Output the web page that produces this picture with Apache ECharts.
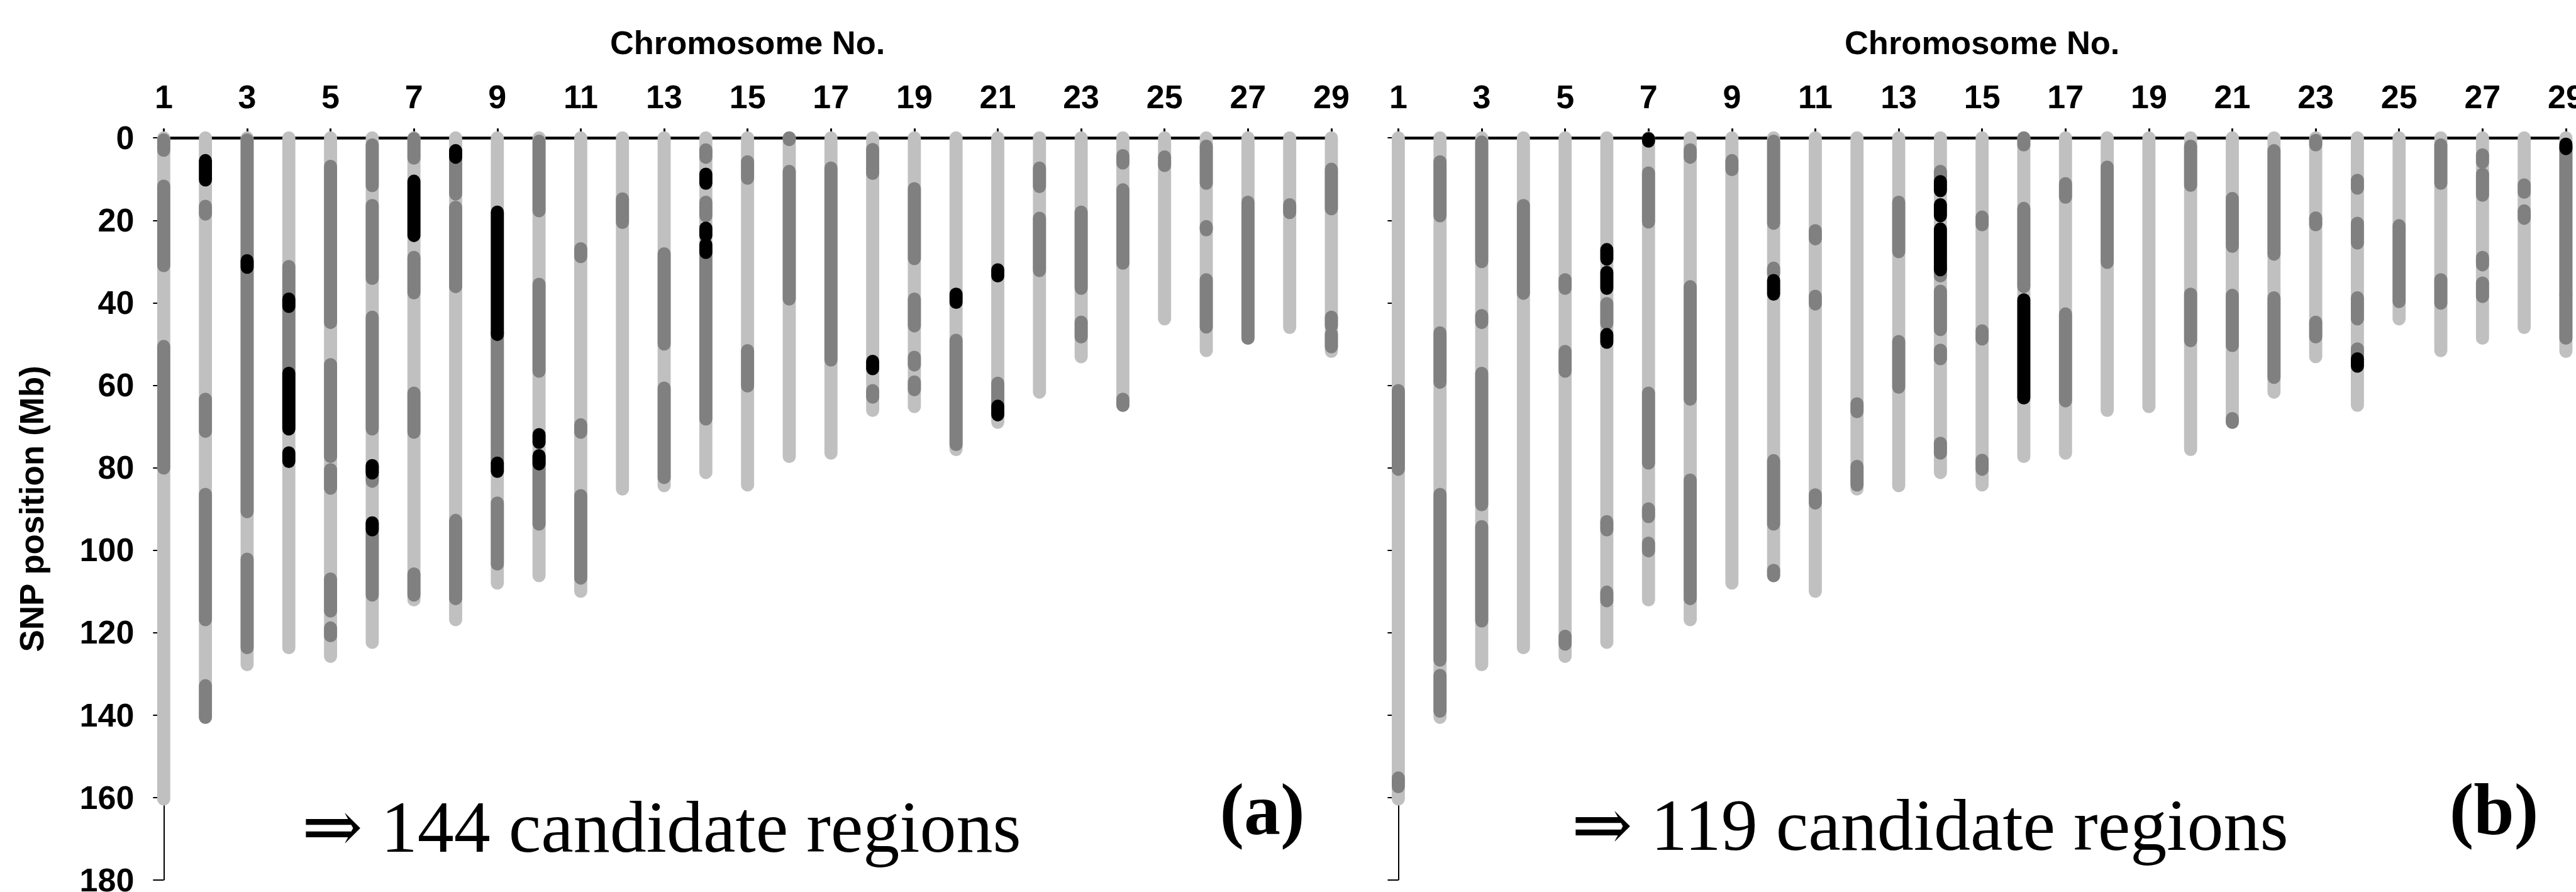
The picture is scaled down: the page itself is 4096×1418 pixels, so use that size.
<!DOCTYPE html>
<html>
<head>
<meta charset="utf-8">
<script src="https://cdn.jsdelivr.net/npm/echarts@6/dist/echarts.min.js"></script>
<style>
html,body{margin:0;padding:0;background:#fff;}
#chart{width:4096px;height:1418px;}
</style>
</head>
<body>
<div id="chart"></div>
<script>
// ---- data (Mb) ----
const chromosomes = [1,2,3,4,5,6,7,8,9,10,11,12,13,14,15,16,17,18,19,20,21,22,23,24,25,26,27,28,29];
const xTickLabels = ['1','3','5','7','9','11','13','15','17','19','21','23','25','27','29'];
const yTickLabels = [0,20,40,60,80,100,120,140,160,180];
const chromLength = [160.4,140.6,127.8,123.7,125.8,122.4,112.1,116.9,108.0,106.2,110.0,85.2,84.4,81.2,84.2,77.3,76.5,66.1,65.2,75.6,69.0,61.7,53.1,64.9,43.9,51.6,48.6,46.0,51.8];

// panel (a): [chromosome, start, end]
const darkA = [
 [1,0.5,3],[1,11.7,31.0],[1,50.6,80.1],
 [2,16.6,18.5],[2,63.4,71.2],[2,86.5,116.9],[2,132.9,140.6],
 [3,0.5,90.7],[3,102.2,123.7],
 [4,31.2,70.6],
 [5,6.9,44.8],[5,55,77.3],[5,80.5,85],[5,107,114.8],[5,118.9,120.8],
 [6,1.7,11.6],[6,16.4,34.1],[6,43.5,70.6],[6,79.5,83.3],[6,93.4,110.9],
 [7,0.2,4.9],[7,29,37.6],[7,61.9,71.4],[7,105.8,110.9],
 [8,3.1,13.6],[8,16.8,36.1],[8,92.8,111.8],
 [9,47,79],[9,88.6,103.4],
 [10,0.8,17.7],[10,35.5,56.6],[10,77.1,93.7],
 [11,26.9,28.8],[11,69.6,71.4],[11,86.8,106.8],
 [12,14.8,20.5],
 [13,28.1,50],[13,60.7,82.4],
 [14,2.9,4.7],[14,15.6,18.9],[14,26.9,68.2],
 [15,5.8,9.8],[15,51.6,60.2],
 [16,0,0.4],[16,8.1,39.1],
 [17,7.3,53.9],
 [18,2.8,8.6],[18,61.3,62.9],
 [19,12.3,29.3],[19,39.1,45.6],[19,53.2,55.1],[19,59.2,61.1],
 [20,49.1,74.4],
 [21,59.5,64.6],
 [22,7.3,11.8],[22,19.5,32.2],
 [23,18,36.5],[23,44.7,48.3],
 [24,4.3,6.1],[24,12.6,30.4],[24,63.4,64.9],
 [25,4.6,6.7],
 [26,2,11],[26,21.5,22.3],[26,34.4,45.9],
 [27,15.6,48.6],
 [28,16.2,18.1],
 [29,7.6,17.2],[29,43.5,45.6],[29,47.6,50.7]
];
const blackA = [
 [2,5.5,10.2],[3,29.8,31.4],
 [4,39.1,40.9],[4,57.1,70.6],[4,76.4,78.5],
 [6,79.5,81.3],[6,93.4,95.1],
 [7,10.5,23.7],[8,3.1,4.7],
 [9,18,47.7],[9,78.9,80.9],
 [10,72,73.9],[10,77.1,79.1],
 [14,8.8,11],[14,21.9,23.7],[14,25.9,27.8],
 [18,54.2,56],[20,37.9,39.9],
 [21,32,33.5],[21,65.1,67.2]
];
// panel (b)
const darkB = [
 [1,61.3,80.4],[1,155.3,157.4],
 [2,5.8,18.9],[2,47.3,59.3],[2,86.5,126.7],[2,130.4,139.1],
 [3,1,30],[3,43.1,44.8],[3,57.1,89],[3,94.3,117.2],
 [4,16.4,37.7],
 [5,34.4,36.5],[5,51.8,56.6],[5,120.9,122.8],
 [6,40.2,45],[6,93.1,95.1],[6,110.2,112.3],
 [7,8.5,20.4],[7,61.9,78.9],[7,90,91.9],[7,98.3,100.2],
 [8,2.9,4.7],[8,36.1,63.4],[8,83,111.8],
 [9,5.5,7.7],
 [10,0.8,20.7],[10,31.6,32.9],[10,78.3,93.7],[10,104.9,106.2],
 [11,22.5,24.5],[11,38.4,40.3],[11,86.6,88.6],
 [12,64.5,66.4],[12,79.7,84.2],
 [13,15.6,27.6],[13,49.4,60.5],
 [14,8.1,9.7],[14,31,33.5],[14,37.2,46.5],[14,51.5,53.6],[14,74.1,76.5],
 [15,19.2,21.1],[15,46.8,48.8],[15,78.2,80.4],
 [16,0,1.7],[16,17.1,36.1],
 [17,11.1,14.4],[17,42.7,63.8],
 [18,7.1,30.2],
 [20,2,11.5],[20,37.9,49.2],
 [21,14.7,26.3],[21,38.2,50.4],[21,68.1,69],
 [22,3.1,28.2],[22,38.8,58.1],
 [23,0.6,1.7],[23,19.4,21.1],[23,44.7,48.3],
 [24,10.3,12.2],[24,20.7,25.5],[24,38.8,43.9],[24,51.2,53.4],
 [25,21.3,39.7],
 [26,1.7,11],[26,34.4,40.1],
 [27,4.1,5.9],[27,8.8,13.9],[27,29,30.8],[27,35.2,38.5],
 [28,11.4,13.2],[28,17.7,19.5],
 [29,2,38],[29,38,48.6]
];
const blackB = [
 [6,27.1,29.4],[6,32.6,36.5],[6,47.7,49.6],
 [7,0.2,0.8],
 [10,34.6,37.9],
 [14,10.6,12.8],[14,16.2,18.9],[14,22.1,32],
 [16,39.3,63.1],
 [24,53.6,55.4],
 [29,1.5,2.6]
];
const panelLabels = ['(a)','(b)'];
const regionTexts = ['\u21D2 144 candidate regions','\u21D2 119 candidate regions'];

// ---- drawing ----
const S = 0.991;
const BAR_W = 21 * S;
const LIGHT = '#c0c0c0', DARK = '#808080', BLACK = '#000000';
const sansFont = "'Liberation Sans', Arial, sans-serif";
const serifFont = "'Liberation Serif', 'Times New Roman', 'DejaVu Serif', serif";

function makeRender(color){
  return function(params, api){
    const x = api.value(0), s = api.value(1), e = api.value(2);
    const p1 = api.coord([x, s]), p2 = api.coord([x, e]);
    let y2 = p2[1];
    if (Math.abs(y2 - p1[1]) < 0.5) y2 = p1[1] + 0.5;
    return {
      type: 'line',
      shape: {x1: p1[0], y1: p1[1], x2: p2[0], y2: y2},
      style: {stroke: color, lineWidth: BAR_W, lineCap: 'round', fill: null},
      silent: true
    };
  };
}

const chromData = chromosomes.map((c, i) => [c, 0, chromLength[i]]);

const gridTop = 221.2 * S, gridH = (1411.3 - 221.2) * S;
const grids = [
  {left: 262.7 * S, top: gridTop, width: (2136.2 - 262.7) * S, height: gridH, containLabel: false, outerBoundsMode: 'none'},
  {left: 2243.6 * S, top: gridTop, width: (4117.0 - 2243.6) * S, height: gridH, containLabel: false, outerBoundsMode: 'none'}
];

function xAxisFor(i){
  return {
    gridIndex: i, type: 'value', position: 'top', min: 1, max: 29, interval: 2,
    axisLine: {show: true, onZero: false, lineStyle: {color: '#000', width: 4.5}},
    axisTick: {show: true, inside: false, length: 15, lineStyle: {color: '#000', width: 3}},
    axisLabel: {show: true, margin: 39, fontSize: 52, fontWeight: 'bold', color: '#000', fontFamily: sansFont,
      formatter: v => (xTickLabels.indexOf(String(v)) >= 0 ? String(v) : '')},
    splitLine: {show: false},
    name: 'Chromosome No.', nameLocation: 'middle', nameGap: 125,
    nameTextStyle: {fontSize: 52.5, fontWeight: 'bold', color: '#000', fontFamily: sansFont}
  };
}
function yAxisFor(i){
  return {
    gridIndex: i, type: 'value', inverse: true, min: 0, max: 180, interval: 20, position: 'left',
    axisLine: {show: true, onZero: false, lineStyle: {color: '#000', width: 2}},
    axisTick: {show: true, inside: false, length: 17, lineStyle: {color: '#000', width: 2}},
    axisLabel: {show: i === 0, margin: 47, fontSize: 52, lineHeight: 38, fontWeight: 'bold', color: '#000', fontFamily: sansFont,
      formatter: v => (yTickLabels.indexOf(v) >= 0 ? String(v) : '')},
    splitLine: {show: false},
    name: i === 0 ? 'SNP position (Mb)' : '', nameLocation: 'middle', nameGap: 183, nameRotate: 90,
    nameTextStyle: {fontSize: 53, fontWeight: 'bold', color: '#000', fontFamily: sansFont}
  };
}

const series = [];
[[darkA, blackA], [darkB, blackB]].forEach((p, i) => {
  series.push({type: 'custom', name: 'chromosome', xAxisIndex: i, yAxisIndex: i, renderItem: makeRender(LIGHT), data: chromData, z: 2, encode: {x: 0, y: [1, 2]}});
  series.push({type: 'custom', name: 'dark', xAxisIndex: i, yAxisIndex: i, renderItem: makeRender(DARK), data: p[0], z: 3, encode: {x: 0, y: [1, 2]}});
  series.push({type: 'custom', name: 'black', xAxisIndex: i, yAxisIndex: i, renderItem: makeRender(BLACK), data: p[1], z: 4, encode: {x: 0, y: [1, 2]}});
});

function txt(x, y, text, size, weight){
  return {type: 'text', x: x, y: y, silent: true, z: 10,
    style: {text: text, fontSize: size, fontWeight: weight, fontFamily: serifFont, fill: '#000',
      align: 'left', verticalAlign: 'middle', textAlign: 'left', textVerticalAlign: 'middle'}};
}
const graphics = [
  txt(484 * S, 1366 * S - 0.3375 * 116, regionTexts[0], 116, 'normal'),
  txt(1957 * S, 1338 * S - 0.3375 * 116, panelLabels[0], 116, 'bold'),
  txt(2521.5 * S, 1363 * S - 0.3375 * 116, regionTexts[1], 116, 'normal'),
  txt(3930 * S, 1338 * S - 0.3375 * 116, panelLabels[1], 116, 'bold')
];

const chart = echarts.init(document.getElementById('chart'), null, {renderer: 'svg', width: 4096, height: 1418});
chart.setOption({
  animation: false,
  backgroundColor: '#ffffff',
  grid: grids,
  xAxis: [xAxisFor(0), xAxisFor(1)],
  yAxis: [yAxisFor(0), yAxisFor(1)],
  series: series,
  graphic: graphics
});
</script>
</body>
</html>
